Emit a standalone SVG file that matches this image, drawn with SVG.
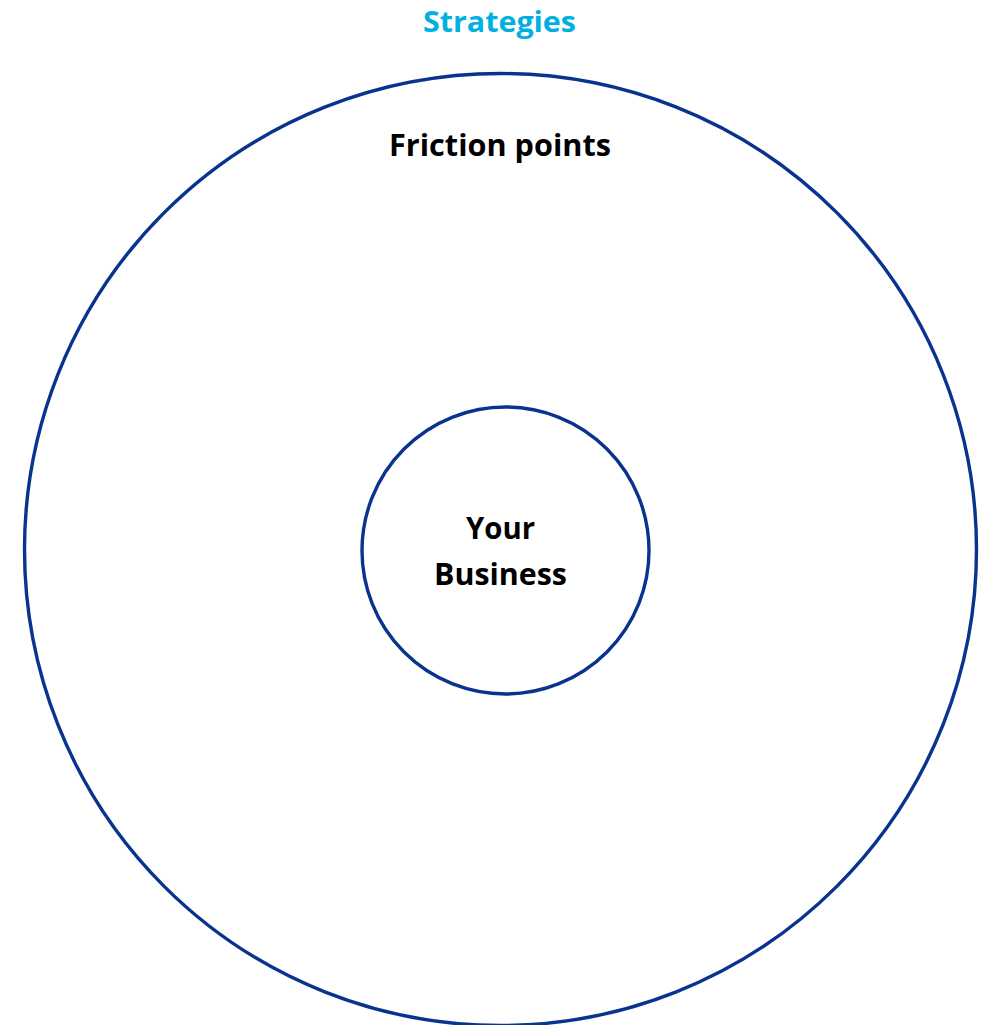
<svg xmlns="http://www.w3.org/2000/svg" width="990" height="1025" viewBox="0 0 990 1025">
<style>
.ring{fill:none;stroke:#08338F;stroke-width:3.4}
.lbl{font-family:"Open Sans","Liberation Sans",sans-serif;font-weight:bold;font-size:31px;text-anchor:middle;fill:#000}
.title{fill:#00B0E0;font-size:29px}
</style>
<rect width="990" height="1025" fill="#fff"/>
<g id="outer">
<circle class="ring" cx="500.5" cy="549.5" r="476"/>
<text class="lbl" x="500" y="156" textLength="222" lengthAdjust="spacingAndGlyphs">Friction points</text>
</g>
<g id="inner">
<circle class="ring" cx="505.5" cy="550.5" r="143.5"/>
<text class="lbl" x="500.5" y="539" textLength="69" lengthAdjust="spacingAndGlyphs">Your</text>
<text class="lbl" x="500.5" y="585" textLength="133" lengthAdjust="spacingAndGlyphs">Business</text>
</g>
<g id="title">
<text class="lbl title" x="499.5" y="31.5" textLength="153" lengthAdjust="spacingAndGlyphs">Strategies</text>
</g>
<g id="connectors"/>
</svg>
